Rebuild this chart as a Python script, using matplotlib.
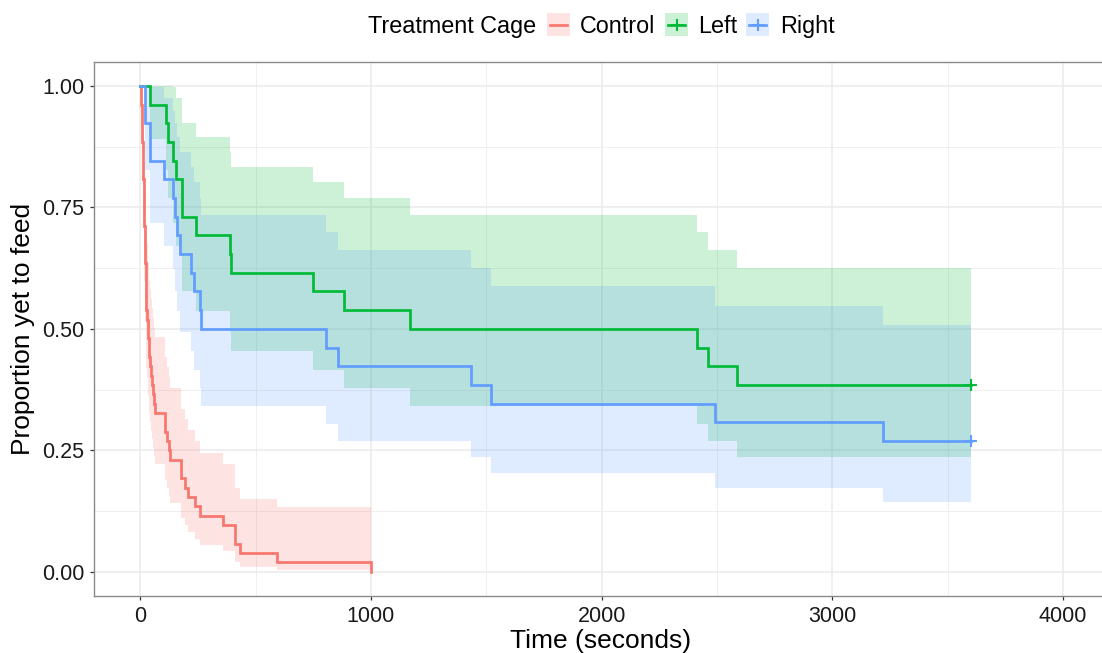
import numpy as np
import matplotlib
matplotlib.use("Agg")
import matplotlib.pyplot as plt
from matplotlib.patches import Rectangle
from matplotlib.lines import Line2D

plt.rcParams['font.family'] = ['Liberation Sans', 'DejaVu Sans']

# ---------------- data ----------------
groups = ["Control", "Left", "Right"]
legend_title = "Treatment Cage"
x_label = "Time (seconds)"
y_label = "Proportion yet to feed"
x_ticks = [0, 1000, 2000, 3000, 4000]
x_tick_labels = ["0", "1000", "2000", "3000", "4000"]
y_ticks = [0.0, 0.25, 0.5, 0.75, 1.0]
y_tick_labels = ["0.00", "0.25", "0.50", "0.75", "1.00"]

# Control
control_time = [0, 4, 5, 6, 7, 8, 9, 10, 11, 12, 13, 14, 15, 16, 17, 18, 19, 20, 21,
                22, 23, 24, 25, 26, 29, 32, 35, 37, 39, 42, 48, 52, 55, 58, 62,
                107, 116, 124, 130, 178, 194, 208, 239, 260, 359, 409, 434, 593, 1000]
control_surv = [1.0, 0.9808, 0.9615, 0.9423, 0.9231, 0.9038, 0.8846, 0.8654, 0.8462,
                0.8269, 0.8077, 0.7885, 0.7692, 0.75, 0.7308, 0.7115, 0.6923, 0.6731,
                0.6538, 0.6346, 0.6154, 0.5962, 0.5769, 0.5385, 0.5192, 0.5, 0.4808,
                0.4615, 0.4423, 0.4231, 0.4038, 0.3846, 0.3654, 0.3462, 0.3269, 0.2885,
                0.2692, 0.25, 0.2308, 0.1923, 0.1731, 0.1538, 0.1346, 0.1154, 0.0962,
                0.0577, 0.0385, 0.0192, 0.0]
control_upper = [1.0, 1.0, 1.0, 1.0, 0.9984, 0.9876, 0.9759, 0.9633, 0.9501, 0.9364,
                 0.9222, 0.9077, 0.8927, 0.8774, 0.8618, 0.8460, 0.8298, 0.8135, 0.7968,
                 0.7800, 0.7629, 0.7456, 0.7281, 0.6925, 0.6744, 0.6562, 0.6377, 0.6190,
                 0.6002, 0.5811, 0.5619, 0.5424, 0.5228, 0.5029, 0.4829, 0.4421, 0.4213,
                 0.4003, 0.3791, 0.3357, 0.3135, 0.2910, 0.2682, 0.2449, 0.2212, 0.1731,
                 0.1497, 0.1340, np.nan]
control_lower = [1.0, 0.9441, 0.9107, 0.8810, 0.8534, 0.8272, 0.8019, 0.7774, 0.7536,
                 0.7302, 0.7074, 0.6849, 0.6628, 0.6411, 0.6196, 0.5985, 0.5776, 0.5569,
                 0.5365, 0.5163, 0.4964, 0.4766, 0.4571, 0.4187, 0.3997, 0.3810, 0.3625,
                 0.3441, 0.3260, 0.3080, 0.2903, 0.2727, 0.2554, 0.2382, 0.2213, 0.1882,
                 0.1720, 0.1561, 0.1405, 0.1102, 0.0955, 0.0813, 0.0676, 0.0544, 0.0418,
                 0.0192, 0.0099, 0.0028, np.nan]

# Left
left_time = [0, 44, 111, 118, 142, 155, 181, 242, 388, 395, 748, 882, 1171, 2412, 2462, 2586, 3600]
left_surv = [1.0, 0.9615, 0.9231, 0.8846, 0.8462, 0.8077, 0.7308, 0.6923, 0.6538, 0.6154,
             0.5769, 0.5385, 0.5, 0.4615, 0.4231, 0.3846, 0.3846]
left_upper = [1.0, 1.0, 1.0, 1.0, 0.9969, 0.9743, 0.9229, 0.8945, 0.8648, 0.8339, 0.8018,
              0.7687, 0.7344, 0.6991, 0.6628, 0.6254, 0.6254]
left_lower = [1.0, 0.8904, 0.8262, 0.7700, 0.7183, 0.6696, 0.5787, 0.5358, 0.4943, 0.4542,
              0.4151, 0.3772, 0.3404, 0.3047, 0.2701, 0.2365, 0.2365]
left_censor_time = [3600]
left_censor_surv = [0.3846]

# Right
right_time = [0, 19, 44, 101, 140, 152, 159, 171, 221, 231, 257, 263, 805, 856, 1435, 1522,
              2492, 3222, 3600]
right_surv = [1.0, 0.9231, 0.8462, 0.8077, 0.7692, 0.7308, 0.6923, 0.6538, 0.6154, 0.5769,
              0.5385, 0.5, 0.4615, 0.4231, 0.3846, 0.3462, 0.3077, 0.2692, 0.2692]
right_upper = [1.0, 1.0, 0.9969, 0.9743, 0.9495, 0.9229, 0.8945, 0.8648, 0.8339, 0.8018,
               0.7687, 0.7344, 0.6991, 0.6628, 0.6254, 0.5872, 0.5477, 0.5072, 0.5072]
right_lower = [1.0, 0.8262, 0.7183, 0.6696, 0.6231, 0.5787, 0.5358, 0.4943, 0.4542, 0.4151,
               0.3772, 0.3404, 0.3047, 0.2701, 0.2365, 0.2041, 0.1729, 0.1429, 0.1429]
right_censor_time = [3600]
right_censor_surv = [0.2692]

# ---------------- styling ----------------
colors = {"Control": "#F8766D", "Left": "#00BA38", "Right": "#619CFF"}
band_alpha = 0.2
line_w = 1.95

W, H = 1102, 653
fig = plt.figure(figsize=(W / 100, H / 100), dpi=100)

pl, pr, pt, pb = 94.2, 1109.0, 61.7, 596.0
ax = fig.add_axes([pl / W, 1 - pb / H, (pr - pl) / W, (pb - pt) / H])
ax.set_xlim(-200, 4200)
ax.set_ylim(-0.05, 1.05)

ax.set_xticks(x_ticks)
ax.set_xticklabels(x_tick_labels)
ax.set_yticks(y_ticks)
ax.set_yticklabels(y_tick_labels)
ax.set_xticks([500, 1500, 2500, 3500], minor=True)
ax.set_yticks([0.125, 0.375, 0.625, 0.875], minor=True)
ax.grid(which='major', color='#EBEBEB', lw=1.1)
ax.grid(which='minor', color='#EFEFEF', lw=0.7)
ax.set_axisbelow(True)
ax.tick_params(which='major', length=3, width=0.9, color='#333333',
               labelsize=15.5, labelcolor='#1a1a1a', pad=4)
ax.tick_params(which='minor', length=0)
for s in ['top', 'left', 'bottom']:
    ax.spines[s].set_color('#8a8a8a')
    ax.spines[s].set_linewidth(1.0)
ax.spines['right'].set_visible(False)

data = {
    "Control": (control_time, control_surv, control_upper, control_lower),
    "Left": (left_time, left_surv, left_upper, left_lower),
    "Right": (right_time, right_surv, right_upper, right_lower),
}

# confidence bands
for g in groups:
    t, s, up, lo = data[g]
    up = np.array(up, dtype=float)
    lo = np.array(lo, dtype=float)
    tt = np.array(t, dtype=float)
    valid = ~np.isnan(up)
    # extend last valid step to the next time point
    if not valid.all():
        last = np.where(valid)[0][-1]
        up[last + 1] = up[last]
        lo[last + 1] = lo[last]
    ax.fill_between(tt, lo, up, step='post', color=colors[g], alpha=band_alpha, lw=0)

# survival curves
for g in groups:
    t, s, up, lo = data[g]
    ax.step(t, s, where='post', color=colors[g], lw=line_w, solid_joinstyle='miter')

ax.plot(left_censor_time, left_censor_surv, ls='none', marker='+', ms=8, mew=1.5,
        color=colors["Left"])
ax.plot(right_censor_time, right_censor_surv, ls='none', marker='+', ms=8, mew=1.5,
        color=colors["Right"])

# axis titles
def fx(x):
    return x / W

def fy(y):
    return 1 - y / H

fig.text(fx(601), fy(648), x_label, fontsize=19, ha='center', va='baseline', color='black')
fig.text(fx(23), fy(329), y_label, fontsize=19, ha='center', va='center', rotation=90,
         color='black')

# legend
fig.text(fx(368), fy(32.7), legend_title, fontsize=16.8, ha='left', va='baseline')
key_x = {"Control": 547, "Left": 665, "Right": 746}
label_x = {"Control": 580, "Left": 698, "Right": 780}
for g in groups:
    x0 = key_x[g]
    fig.add_artist(Rectangle((fx(x0), fy(36)), 23 / W, 23 / H, transform=fig.transFigure,
                             facecolor=colors[g], alpha=band_alpha, lw=0))
    fig.add_artist(Line2D([fx(x0 + 3), fx(x0 + 20)], [fy(24.5), fy(24.5)],
                          transform=fig.transFigure, color=colors[g], lw=line_w))
    if g != "Control":
        fig.add_artist(Line2D([fx(x0 + 11.5)], [fy(24.5)], transform=fig.transFigure,
                              ls='none', marker='+', ms=8, mew=1.5, color=colors[g]))
    fig.text(fx(label_x[g]), fy(32.7), g, fontsize=16.8, ha='left', va='baseline')

fig.savefig("out.png", dpi=100)
